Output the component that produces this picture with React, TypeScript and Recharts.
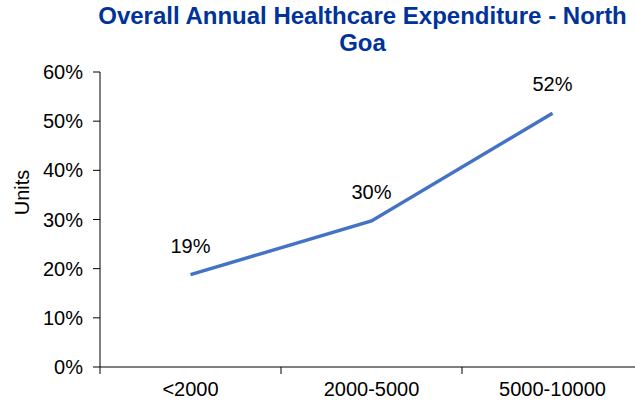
import { LineChart, Line, XAxis, YAxis, LabelList } from 'recharts';

const categories = ['<2000', '2000-5000', '5000-10000'];
const shares = [0.188, 0.297, 0.516];
const yTicks = [0, 0.1, 0.2, 0.3, 0.4, 0.5, 0.6];
const bandEdges = [0, 1, 2, 3];
const bandCenters = [0.5, 1.5, 2.5];

const data = categories.map((name, i) => ({ name, x: i + 0.5, value: shares[i] }));

const pct = (v: number) => `${Math.round(v * 100)}%`;
const font = 'Liberation Sans, Arial, sans-serif';
const textStyle = { fill: '#000', fontSize: 20, fontFamily: font };

export default function App() {
  return (
    <div style={{ position: 'absolute', left: 0, top: 0, width: 635, height: 403, overflow: 'hidden', background: '#fff', fontFamily: font }}>
      <div
        style={{
          position: 'absolute',
          left: 90,
          width: 545,
          top: 2,
          textAlign: 'center',
          color: '#003399',
          fontWeight: 'bold',
          fontSize: 24,
          lineHeight: '27px',
        }}
      >
        Overall Annual Healthcare Expenditure - North
        <br />
        Goa
      </div>
      <LineChart width={660} height={403} data={data} margin={{ top: 72, right: 17, left: 0, bottom: 0 }}>
        <XAxis
          xAxisId="edges"
          dataKey="x"
          type="number"
          domain={[0, 3]}
          ticks={bandEdges}
          tickFormatter={() => ''}
          tickSize={7}
          height={1}
          stroke="#000"
        />
        <XAxis
          xAxisId="names"
          dataKey="x"
          type="number"
          domain={[0, 3]}
          ticks={bandCenters}
          tickFormatter={(v: number) => categories[Math.floor(v)]}
          axisLine={false}
          tickLine={false}
          tickSize={7}
          tickMargin={7}
          height={35}
          tick={textStyle}
        />
        <YAxis
          domain={[0, 0.6]}
          ticks={yTicks}
          tickFormatter={pct}
          width={100}
          tickSize={7}
          tickMargin={10}
          stroke="#000"
          tick={textStyle}
          label={{ value: 'Units', angle: -90, position: 'center', dx: -28, dy: -27, style: { ...textStyle, textAnchor: 'middle' } }}
        />
        <Line
          xAxisId="names"
          dataKey="value"
          stroke="#4472C4"
          strokeWidth={3.5}
          dot={false}
          isAnimationActive={false}
        >
          <LabelList dataKey="value" position="top" offset={22} formatter={(v: any) => pct(Number(v))} style={textStyle} />
        </Line>
      </LineChart>
    </div>
  );
}
